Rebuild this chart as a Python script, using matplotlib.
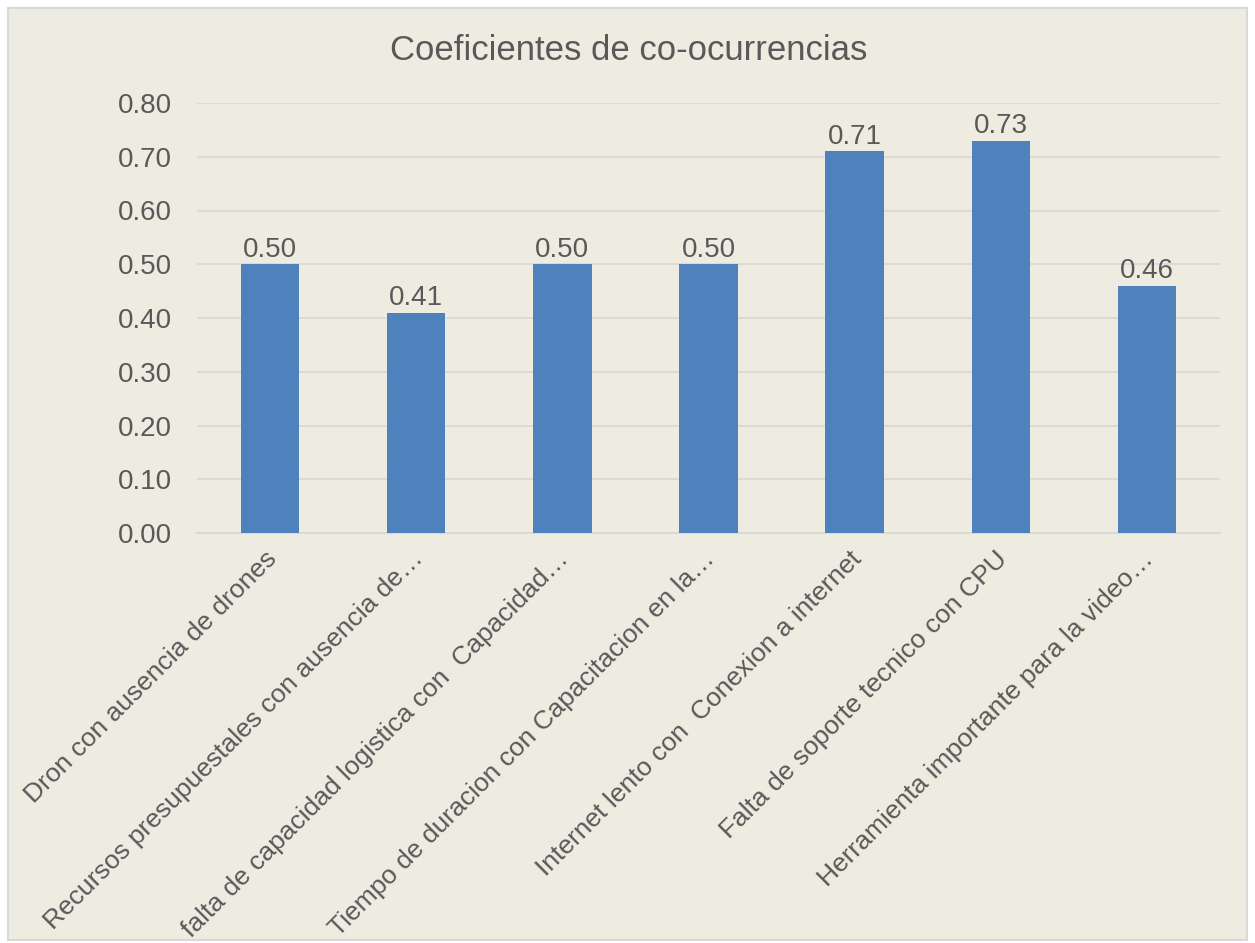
import matplotlib
matplotlib.use("Agg")
import matplotlib.pyplot as plt
from matplotlib.patches import Rectangle

categories = [
    "Dron con ausencia de drones",
    "Recursos presupuestales con ausencia de…",
    "falta de capacidad logistica con  Capacidad…",
    "Tiempo de duracion con Capacitacion en la…",
    "Internet lento con  Conexion a internet",
    "Falta de soporte tecnico con CPU",
    "Herramienta importante para la video…",
]
values = [0.50, 0.41, 0.50, 0.50, 0.71, 0.73, 0.46]
yticks = [0.0, 0.1, 0.2, 0.3, 0.4, 0.5, 0.6, 0.7, 0.8]
title = "Coeficientes de co-ocurrencias"

plt.rcParams['font.family'] = ['Liberation Sans', 'DejaVu Sans']
TXT = "#595959"
BG = "#EEEBE0"
GRID = "#D9D9D9"
BAR = "#4F81BD"

fig = plt.figure(figsize=(12.55, 9.43), dpi=100)
fig.patch.set_facecolor("white")
bgrect = Rectangle((8/1255, 3/943), 1239/1255, 932/943, transform=fig.transFigure,
                   facecolor=BG, edgecolor=GRID, linewidth=1.5, zorder=-10)
fig.add_artist(bgrect)

ax = fig.add_axes([197/1255, 1-533/943, (1220-197)/1255, (533-103)/943])
ax.set_zorder(1)
ax.set_facecolor("none")
x = list(range(len(categories)))
ax.bar(x, values, width=0.4, color=BAR, zorder=3)
ax.set_xlim(-0.5, len(categories)-0.5)
ax.set_ylim(0, 0.8)
ax.set_yticks(yticks)
ax.set_yticklabels([f"{v:.2f}" for v in yticks], fontsize=20, color=TXT)
ax.tick_params(axis='y', length=0, pad=18)
ax.tick_params(axis='x', length=0)
ax.set_xticks(x)
ax.set_xticklabels([])
ax.grid(axis='y', color=GRID, linewidth=1.3, zorder=0)
for s in ['top', 'right', 'left']:
    ax.spines[s].set_visible(False)
ax.spines['bottom'].set_color(GRID)
ax.spines['bottom'].set_linewidth(1.5)

for xi, v in zip(x, values):
    ax.annotate(f"{v:.2f}", xy=(xi, v), xytext=(0, 10.5), textcoords='offset points',
                ha='center', va='center', fontsize=20, color=TXT, zorder=4)

for xi, lab in zip(x, categories):
    ax.annotate(lab, xy=(xi, 0), xycoords=('data', 'axes fraction'),
                xytext=(2, -16), textcoords='offset points',
                rotation=45, rotation_mode='anchor', ha='right', va='center',
                fontsize=19, color=TXT)

fig.text(629/1255, 1-51/943, title, ha='center', va='center', fontsize=25, color=TXT)

fig.savefig("out.png", dpi=100, facecolor=fig.get_facecolor())
